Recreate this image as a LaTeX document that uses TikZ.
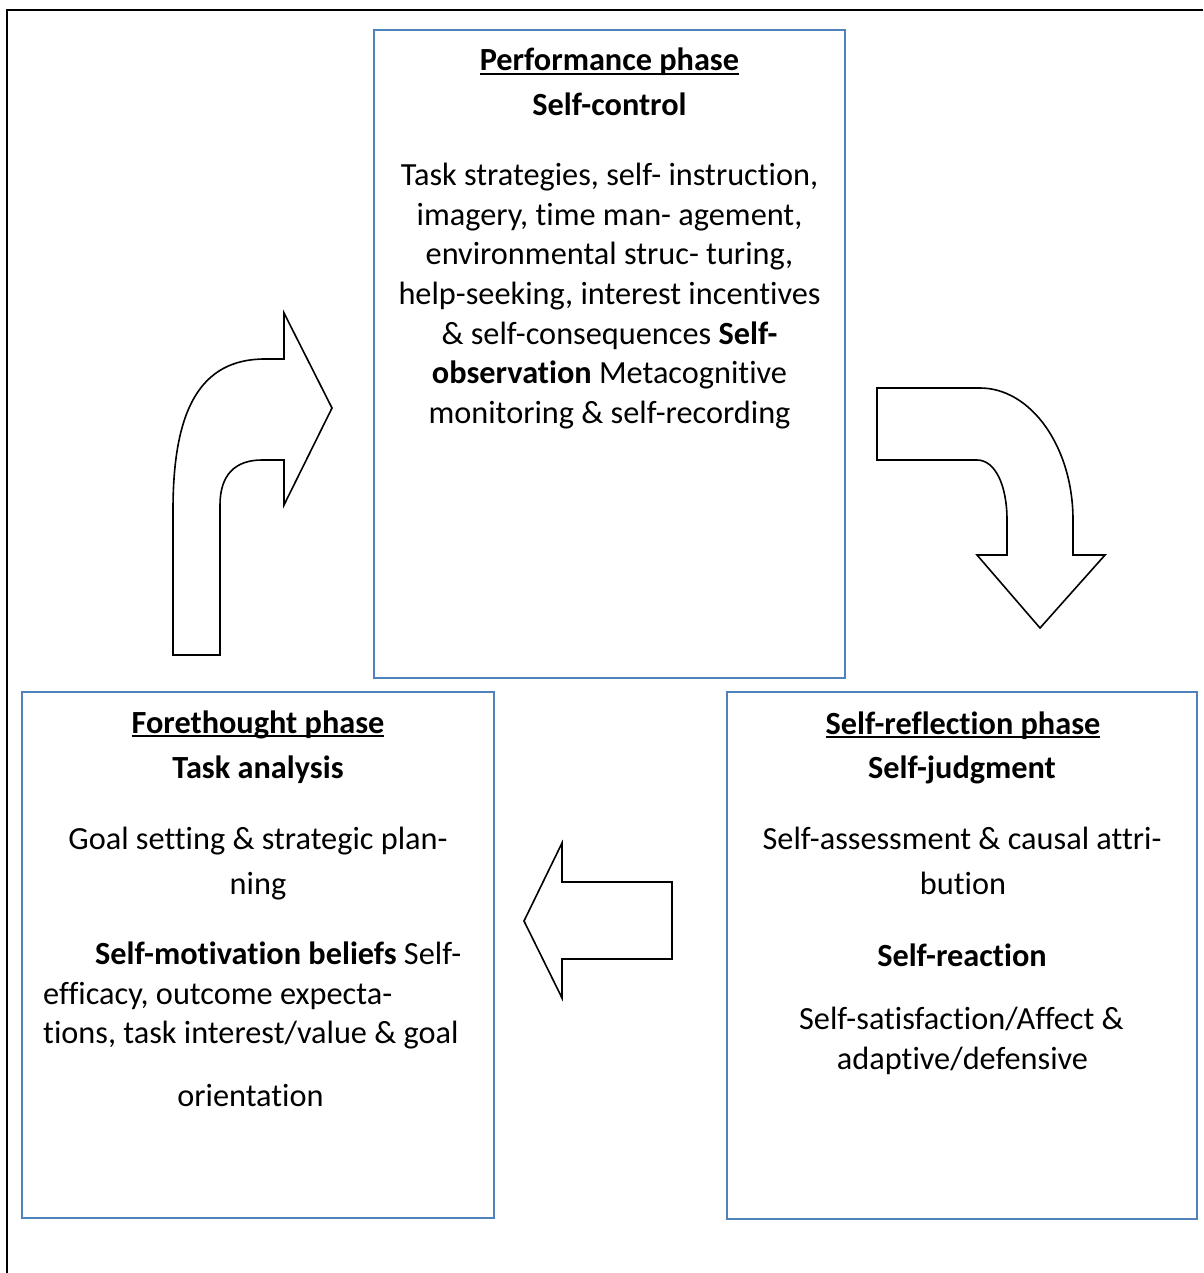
\documentclass[tikz,border=0pt]{standalone}
\usepackage{fontspec}
\setmainfont{Carlito}[Ligatures={NoCommon}]
\definecolor{boxblue}{RGB}{79,129,189}
\newsavebox\headbox
\newcommand{\phasehead}[1]{\sbox\headbox{\bfseries #1}\rlap{\rule[-4pt]{\wd\headbox}{2pt}}\usebox\headbox}
\begin{document}
\begin{tikzpicture}[x=1pt, y=-1pt,
    phasebox/.style={draw=boxblue, line width=2pt, rectangle, inner sep=0pt},
    txtline/.style={anchor=base, inner sep=0pt, font=\fontsize{32.3}{39.5}\selectfont},
    txtleft/.style={txtline, anchor=base west},
    bentarrow/.style={draw, line width=1.6pt, line join=miter}]%
    \useasboundingbox (0,0) rectangle (1203,1273);
    % outer frame
    \draw[line width=2pt, black] (7,1273) -- (7,10.5) -- (1203,10.5);

    % the three phases
    \node[phasebox, minimum width=471pt, minimum height=648pt]
      (perfbox) at (609.5,354) {};
    \node[phasebox, minimum width=472pt, minimum height=526pt]
      (forebox) at (258,955) {};
    \node[phasebox, minimum width=470pt, minimum height=527pt]
      (reflbox) at (962,955.5) {};

    % performance phase
    \node[txtline] (perf1) at (609.5,71) {\phasehead{Performance phase}};
    \node[txtline] (perf2) at (609.5,116) {\textbf{Self-control}};
    \node[txtline] (perf3) at (609.5,186) {Task strategies, self- instruction,};
    \node[txtline] (perf4) at (609.5,225.5) {imagery, time man- agement,};
    \node[txtline] (perf5) at (609.5,265) {environmental struc- turing,};
    \node[txtline] (perf6) at (609.5,304.5) {help-seeking, interest incentives};
    \node[txtline] (perf7) at (609.5,344) {\& self-consequences \textbf{Self-}};
    \node[txtline] (perf8) at (609.5,383.5) {\textbf{observation} Metacognitive};
    \node[txtline] (perf9) at (609.5,423) {monitoring \& self-recording};

    % forethought phase
    \node[txtline] (fore1) at (258,733) {\phasehead{Forethought phase}};
    \node[txtline] (fore2) at (258,778) {\textbf{Task analysis}};
    \node[txtline] (fore3) at (258,849) {Goal setting \& strategic plan-};
    \node[txtline] (fore4) at (258,894) {ning};
    \node[txtleft] (fore5) at (95,964) {\textbf{Self-motivation beliefs} Self-};
    \node[txtleft] (fore6) at (43,1004) {efficacy, outcome expecta-};
    \node[txtleft] (fore7) at (43,1043) {tions, task interest/value \& goal};
    \node[txtline] (fore8) at (250.5,1106) {orientation};

    % self-reflection phase
    \node[txtline] (refl1) at (963,734) {\phasehead{Self-reflection phase}};
    \node[txtline] (refl2) at (962,778) {\textbf{Self-judgment}};
    \node[txtline] (refl3) at (962,849) {Self-assessment \& causal attri-};
    \node[txtline] (refl4) at (963,894) {bution};
    \node[txtline] (refl5) at (962,966) {\textbf{Self-reaction}};
    \node[txtline] (refl6) at (961.5,1029) {Self-satisfaction/Affect \&};
    \node[txtline] (refl7) at (962.5,1069) {adaptive/defensive};

    % cycle arrows
    \draw[bentarrow] (173,655) -- (173,510)
      .. controls (173,410) and (200,359) .. (265,359)
      -- (284,359) -- (284,313) -- (332,408) -- (284,505) -- (284,460)
      -- (262,460) .. controls (235,460) and (220,475) .. (220,505)
      -- (220,655) -- cycle;
    \draw[bentarrow] (877,388) -- (980,388)
      .. controls (1031,388) and (1073,447) .. (1073,520)
      -- (1073,555) -- (1105,555) -- (1040,628) -- (977,555) -- (1007,555)
      -- (1007,520) .. controls (1007,485) and (995,460) .. (977,460)
      -- (877,460) -- cycle;
    \draw[bentarrow] (672,882) -- (562,882) -- (562,843) -- (524,921)
      -- (562,998) -- (562,959) -- (672,959) -- cycle;
  \end{tikzpicture}
\end{document}
